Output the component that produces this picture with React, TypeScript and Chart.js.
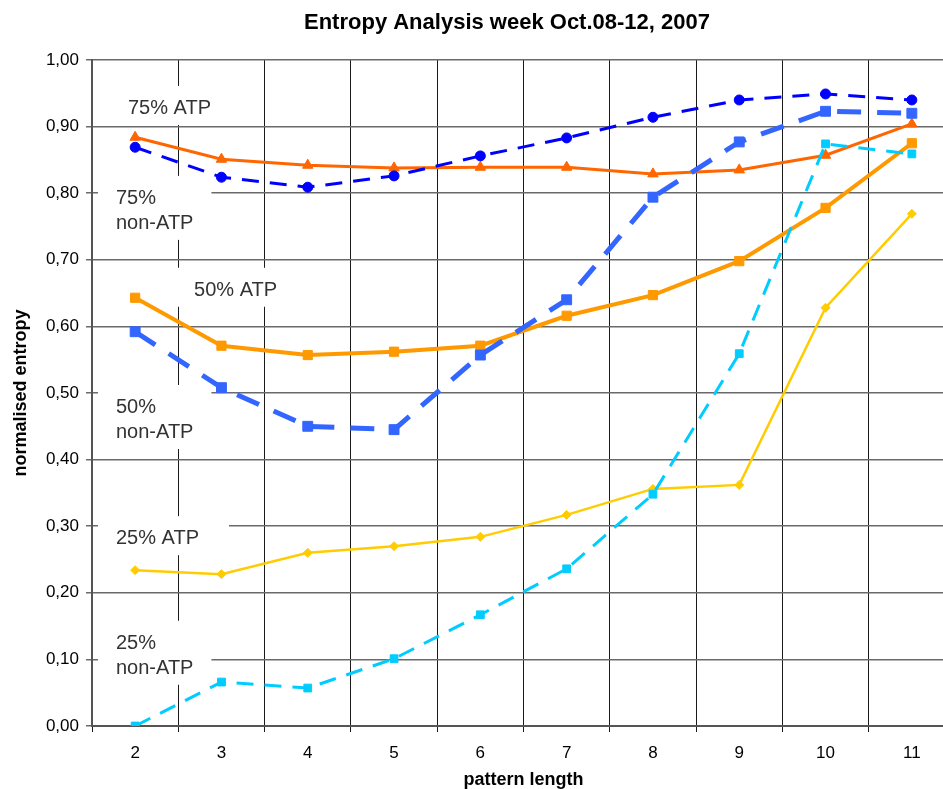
import React, { useEffect, useRef } from "react";
import { Chart, registerables } from "chart.js";

Chart.register(...registerables);

const FONT = "'Liberation Sans', Arial, Helvetica, sans-serif";

const TITLE = "Entropy Analysis week Oct.08-12, 2007";
const X_TITLE = "pattern length";
const Y_TITLE = "normalised entropy";

const patternLengths = ["2", "3", "4", "5", "6", "7", "8", "9", "10", "11"];

const atp75 = [0.884, 0.851, 0.842, 0.838, 0.839, 0.839, 0.829, 0.835, 0.857, 0.904];
const nonAtp75 = [0.869, 0.824, 0.809, 0.826, 0.856, 0.883, 0.914, 0.94, 0.949, 0.94];
const atp50 = [0.643, 0.571, 0.557, 0.562, 0.571, 0.616, 0.647, 0.698, 0.778, 0.875];
const nonAtp50 = [0.592, 0.508, 0.45, 0.445, 0.557, 0.64, 0.794, 0.877, 0.923, 0.92];
const atp25 = [0.234, 0.228, 0.26, 0.27, 0.284, 0.317, 0.356, 0.362, 0.628, 0.769];
const nonAtp25 = [0.0, 0.066, 0.057, 0.101, 0.167, 0.236, 0.348, 0.559, 0.874, 0.859];

// In-chart text labels: band position from plot left (in bands), baseline value of first line
const labelTexts = [["75% ATP"], ["75%", "non-ATP"], ["50% ATP"], ["50%", "non-ATP"], ["25% ATP"], ["25%", "non-ATP"]];
const labelBand = [0.417, 0.278, 1.183, 0.278, 0.278, 0.278];
const labelValue = [0.919, 0.784, 0.646, 0.47, 0.273, 0.116];

const fmt = (v: number) => v.toFixed(2).replace(".", ",");

const labelPlugin = {
  id: "boxLabels",
  beforeDatasetsDraw(chart: any) {
    const { ctx, scales } = chart;
    const xs = scales.x;
    const ys = scales.y;
    const band = (xs.right - xs.left) / patternLengths.length;
    ctx.save();
    ctx.font = `20px ${FONT}`;
    ctx.textBaseline = "alphabetic";
    ctx.textAlign = "left";
    labelTexts.forEach((lines, i) => {
      const x = xs.left + labelBand[i] * band;
      const y0 = ys.getPixelForValue(labelValue[i]);
      const lineH = 25;
      let w = 0;
      lines.forEach((l) => (w = Math.max(w, ctx.measureText(l).width)));
      const single = lines.length === 1;
      const top = y0 - 28;
      const bottom = y0 + (lines.length - 1) * lineH + 11;
      const left = x - 18;
      const right = x + w + (single ? 30 : 18);
      ctx.fillStyle = "#ffffff";
      ctx.fillRect(left, top, right - left, bottom - top);
      ctx.fillStyle = "#333333";
      lines.forEach((l, k) => ctx.fillText(l, x, y0 + k * lineH));
    });
    ctx.restore();
  },
};

const titlePlugin = {
  id: "customTitle",
  afterDraw(chart: any) {
    const { ctx } = chart;
    ctx.save();
    ctx.font = `bold 22px ${FONT}`;
    ctx.fillStyle = "#000";
    ctx.textAlign = "center";
    ctx.textBaseline = "middle";
    ctx.fillText(TITLE, 507, 23);
    ctx.restore();
  },
};

export default function App() {
  const ref = useRef<HTMLCanvasElement | null>(null);

  useEffect(() => {
    if (!ref.current) return;
    const mk = (
      label: string,
      data: number[],
      color: string,
      width: number,
      dash: number[],
      style: string,
      radius: number
    ) => ({
      label,
      data,
      borderColor: color,
      backgroundColor: color,
      borderWidth: width,
      borderDash: dash,
      borderCapStyle: "butt",
      pointStyle: style,
      pointRadius: radius,
      pointBorderWidth: 1,
      pointBorderColor: color,
      pointBackgroundColor: color,
      tension: 0,
      fill: false,
    });

    const chart = new Chart(ref.current, {
      type: "line",
      data: {
        labels: patternLengths,
        datasets: [
          mk("25% non-ATP", nonAtp25, "#00CCFF", 3, [17, 11], "rect", 5.5),
          mk("25% ATP", atp25, "#FFCC00", 2.5, [], "rectRot", 4.5),
          mk("50% non-ATP", nonAtp50, "#3366FF", 5, [24, 16], "rect", 7),
          mk("50% ATP", atp50, "#FF9900", 4, [], "rect", 6.5),
          mk("75% non-ATP", nonAtp75, "#0000FF", 3, [17, 11], "circle", 5),
          mk("75% ATP", atp75, "#FF6600", 3, [], "triangle", 6),
        ] as any,
      },
      options: {
        responsive: false,
        animation: false,
        devicePixelRatio: 1,
        layout: { padding: { top: 60, left: 0, right: 0, bottom: 0 } },
        plugins: {
          legend: { display: false },
          tooltip: { enabled: false },
          title: { display: false },
        },
        scales: {
          x: {
            type: "category",
            offset: true,
            afterFit: (s: any) => {
              s.height = 63;
            },
            grid: {
              offset: true,
              color: "#1a1a1a",
              lineWidth: 1,
              tickLength: 6,
              drawTicks: true,
            },
            border: { color: "#555", width: 2 },
            ticks: {
              color: "#000",
              font: { family: FONT, size: 17 },
              padding: 11,
              maxRotation: 0,
              autoSkip: false,
            },
            title: {
              display: true,
              text: X_TITLE,
              color: "#000",
              font: { family: FONT, size: 18, weight: "bold", lineHeight: 1 },
              padding: { top: 0, bottom: 0 },
            },
          },
          y: {
            min: 0,
            max: 1,
            afterFit: (s: any) => {
              s.width = 92;
            },
            grid: { color: "#6a6a6a", lineWidth: 1.5, tickLength: 6 },
            border: { color: "#555", width: 2 },
            ticks: {
              stepSize: 0.1,
              color: "#000",
              font: { family: FONT, size: 17 },
              padding: 7,
              callback: (v: any) => fmt(Number(v)),
            },
            title: {
              display: true,
              text: Y_TITLE,
              color: "#000",
              font: { family: FONT, size: 18, weight: "bold", lineHeight: 1.2 },
              padding: { top: 10, bottom: 0 },
            },
          },
        },
      } as any,
      plugins: [labelPlugin, titlePlugin],
    });
    return () => chart.destroy();
  }, []);

  return (
    <div
      style={{
        position: "fixed",
        left: 0,
        top: 0,
        width: 943,
        height: 789,
        overflow: "hidden",
        background: "#fff",
      }}
    >
      <canvas
        ref={ref}
        width={963}
        height={789}
        style={{ display: "block", width: 963, height: 789 }}
      />
    </div>
  );
}
